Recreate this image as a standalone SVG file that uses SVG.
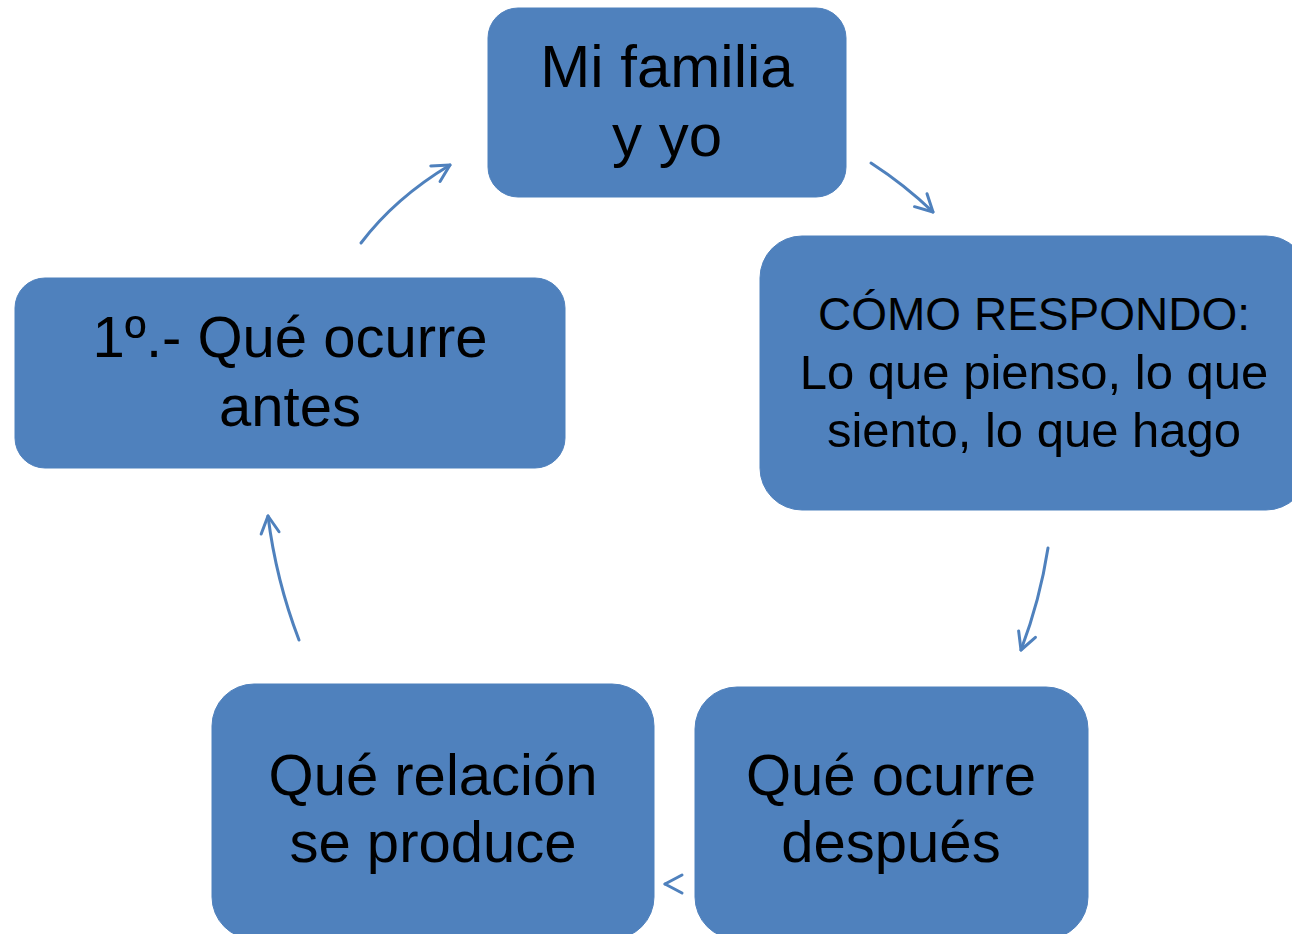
<svg xmlns="http://www.w3.org/2000/svg" width="1292" height="934" viewBox="0 0 1292 934">
<defs>
<style>
.box{fill:#4f81bd;stroke:#4f81bd;stroke-width:1}
.t{font-family:"Liberation Sans","Open Sans",Arial,sans-serif;fill:#000;text-anchor:middle}
.big{font-size:58px}
.top{font-size:60px}
.mid{font-size:49px}
.c{fill:none;stroke:#4f81bd;stroke-width:3;stroke-linecap:round}
</style>
<marker id="ah" markerUnits="userSpaceOnUse" markerWidth="34" markerHeight="34" refX="0" refY="0" viewBox="-22 -17 34 34" orient="auto">
<path d="M-17,-9 L0,0 L-17,9" fill="none" stroke="#4f81bd" stroke-width="3" stroke-linecap="round" stroke-linejoin="round"/>
</marker>
</defs>
<rect width="1292" height="934" fill="#fff"/>
<g id="connectors">
<path class="c" d="M361,243 Q395,198 450,165" marker-end="url(#ah)"/>
<path class="c" d="M871,163 Q905,185 933,212" marker-end="url(#ah)"/>
<path class="c" d="M1048,548 Q1040,600 1021,650" marker-end="url(#ah)"/>
<path class="c" d="M666,884 L665,884" marker-end="url(#ah)"/>
<path class="c" d="M299,640 Q276,580 268,516" marker-end="url(#ah)"/>
</g>
<g id="node-familia">
<rect class="box" x="488" y="8" width="358" height="189" rx="30"/>
<text class="t top"><tspan x="667" y="87">Mi familia</tspan><tspan x="667" y="156">y yo</tspan></text>
</g>
<g id="node-respondo">
<rect class="box" x="760" y="236" width="548" height="274" rx="42"/>
<text class="t mid"><tspan x="1034" y="330" style="font-size:46px">CÓMO RESPONDO:</tspan><tspan x="1034" y="389">Lo que pienso, lo que</tspan><tspan x="1034" y="447">siento, lo que hago</tspan></text>
</g>
<g id="node-despues">
<rect class="box" x="695" y="687" width="393" height="252" rx="42"/>
<text class="t big"><tspan x="891" y="795">Qué ocurre</tspan><tspan x="891" y="862">después</tspan></text>
</g>
<g id="node-relacion">
<rect class="box" x="212" y="684" width="442" height="255" rx="42"/>
<text class="t big"><tspan x="433" y="795">Qué relación</tspan><tspan x="433" y="862">se produce</tspan></text>
</g>
<g id="node-antes">
<rect class="box" x="15" y="278" width="550" height="190" rx="30"/>
<text class="t big"><tspan x="290" y="357">1º.- Qué ocurre</tspan><tspan x="290" y="426">antes</tspan></text>
</g>
</svg>
